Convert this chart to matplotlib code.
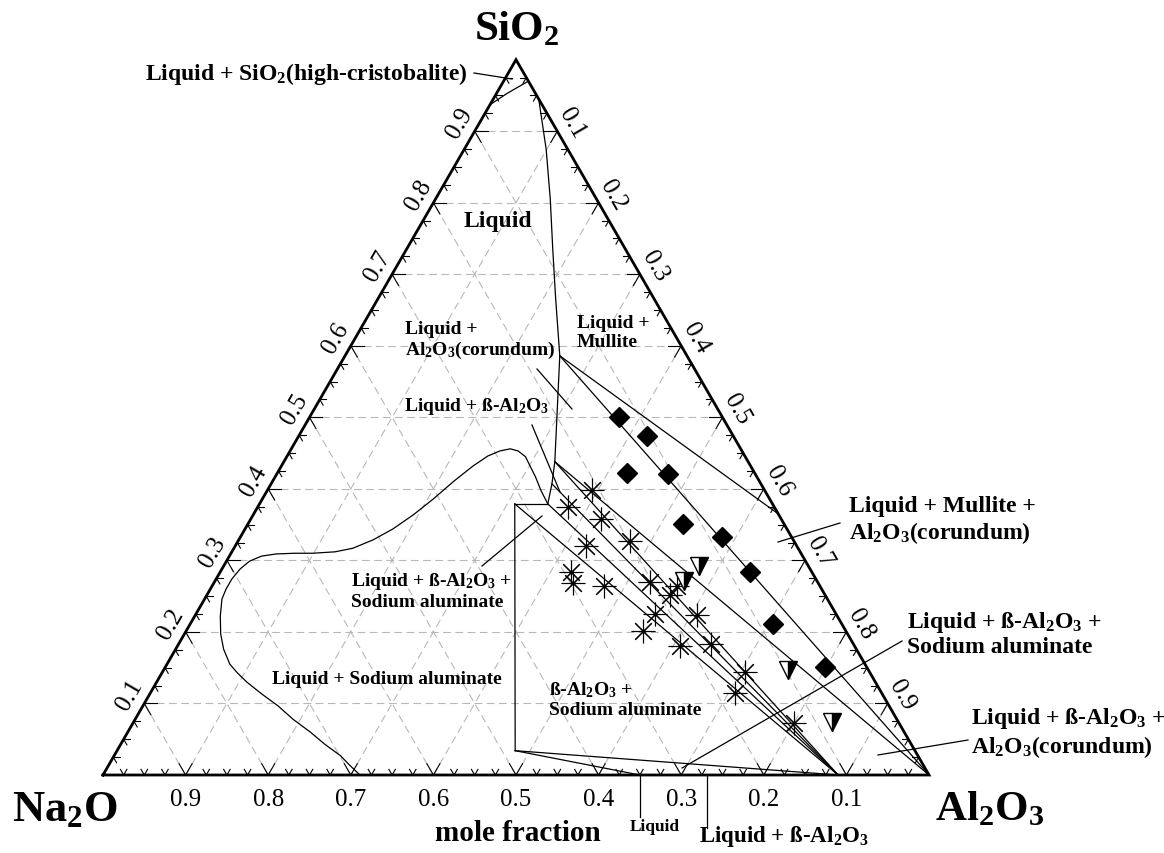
import numpy as np
import matplotlib.pyplot as plt
from matplotlib.lines import Line2D

plt.rcParams["font.family"] = "Liberation Serif"
plt.rcParams["mathtext.fontset"] = "custom"
plt.rcParams["mathtext.rm"] = "Liberation Serif:bold"
plt.rcParams["mathtext.it"] = "Liberation Serif:bold:italic"
plt.rcParams["mathtext.bf"] = "Liberation Serif:bold"
plt.rcParams["mathtext.default"] = "rm"

# All compositions as mole fractions (SiO2, Al2O3); Na2O is the remainder.

# cristobalite liquidus close to the SiO2 corner
crist_si = [0.937, 0.953, 0.970]
crist_al = [0.000, 0.013, 0.030]

# main liquidus running down from the SiO2-Al2O3 side
liq_si = [0.945, 0.875, 0.805, 0.735, 0.666, 0.586, 0.512, 0.438, 0.407, 0.379]
liq_al = [0.055, 0.099, 0.139, 0.177, 0.215, 0.260, 0.294, 0.328, 0.340, 0.349]

# boundary of the liquid + sodium aluminate field
naal_si = [0.000, 0.015, 0.027, 0.043, 0.060, 0.078, 0.097, 0.113, 0.130, 0.143,
           0.155, 0.176, 0.197, 0.222, 0.246, 0.260, 0.274, 0.288, 0.299, 0.306,
           0.309, 0.310, 0.310, 0.312, 0.317, 0.329, 0.344, 0.364, 0.386, 0.410,
           0.432, 0.446, 0.453, 0.456, 0.453, 0.445, 0.432, 0.417, 0.397, 0.379]
naal_al = [0.311, 0.290, 0.274, 0.247, 0.221, 0.191, 0.163, 0.136, 0.109, 0.091,
           0.076, 0.058, 0.044, 0.031, 0.021, 0.019, 0.019, 0.022, 0.028, 0.039,
           0.055, 0.077, 0.099, 0.125, 0.144, 0.163, 0.179, 0.194, 0.207, 0.219,
           0.232, 0.243, 0.254, 0.265, 0.276, 0.289, 0.301, 0.315, 0.332, 0.349]

# invariant / phase points (SiO2, Al2O3)
P_MUL = (0.586, 0.260)     # liquid + mullite + corundum
P_COR = (0.438, 0.328)     # liquid + beta-alumina + corundum
P_BET = (0.407, 0.340)
P_NAA = (0.379, 0.349)     # liquid + beta-alumina + sodium aluminate
P_BOX = (0.379, 0.309)
P_LOW = (0.034, 0.482)
P_BIN = (0.000, 0.650)
BETA = (0.000, 0.890)      # beta-alumina on the Na2O-Al2O3 side
MULLITE = (0.365, 0.635)
AL2O3 = (0.000, 1.000)

# phase boundary segments and tie lines
segments = [
    (P_NAA, P_BOX), (P_BOX, P_LOW), (P_LOW, P_BIN), (P_LOW, BETA),
    (P_MUL, MULLITE), (P_MUL, AL2O3), (P_COR, AL2O3),
    (P_COR, BETA), (P_BET, BETA), (P_NAA, BETA), (P_BOX, BETA),
]

# experimental compositions
diamond_si = [0.500, 0.474, 0.422, 0.421, 0.351, 0.333, 0.284, 0.211, 0.151]
diamond_al = [0.375, 0.422, 0.423, 0.474, 0.527, 0.583, 0.641, 0.706, 0.799]

tri_si = [0.292, 0.271, 0.147, 0.074]
tri_al = [0.575, 0.568, 0.756, 0.846]

star_si = [0.398, 0.375, 0.358, 0.327, 0.320, 0.284, 0.268, 0.264, 0.270, 0.252,
           0.264, 0.225, 0.224, 0.201, 0.180, 0.183, 0.144, 0.115, 0.073]
star_al = [0.393, 0.376, 0.424, 0.474, 0.425, 0.424, 0.435, 0.474, 0.527, 0.561,
           0.563, 0.556, 0.607, 0.553, 0.608, 0.645, 0.705, 0.708, 0.800]

tick_values = [0.1, 0.2, 0.3, 0.4, 0.5, 0.6, 0.7, 0.8, 0.9]

H = np.sqrt(3) / 2


def to_xy(si, al):
    si = np.asarray(si, dtype=float)
    al = np.asarray(al, dtype=float)
    return al + si / 2, si * H


W, HP = 1164, 854
fig = plt.figure(figsize=(W / 100, HP / 100), dpi=100)
ax = fig.add_axes([0, 0, 1, 1])
ax.set_xlim(-103 / 826, 1061 / 826)
ax.set_ylim(-78 / 826, 776 / 826)
ax.axis("off")


def fpos(x, y):
    # figure position given in pixels from the top-left corner
    return x / W, 1 - y / HP


# dashed grid in the three composition directions
for c in tick_values:
    for si, al in [([c, c], [0, 1 - c]), ([0, 1 - c], [c, c]), ([0, 1 - c], [1 - c, 0])]:
        x, y = to_xy(si, al)
        ax.plot(x, y, color="#b8b8b8", lw=0.8, ls=(0, (7, 4)), zorder=1)

# triangle frame
x, y = to_xy([0, 0, 1, 0], [0, 1, 0, 0])
ax.plot(x, y, color="black", lw=2.0, solid_joinstyle="miter", zorder=4)


def tick(si, al, angles, length):
    x0, y0 = to_xy(si, al)
    for ang in angles:
        r = np.deg2rad(ang)
        ax.plot([x0, x0 + length * np.cos(r)], [y0, y0 + length * np.sin(r)],
                color="black", lw=0.8, zorder=4)


for k in range(1, 40):
    c = k / 40
    ln = 13 / 826 if k % 4 == 0 else 6.5 / 826
    tick(0, 1 - c, (60, 120), ln)     # Na2O axis
    tick(c, 0, (0, -60), ln)          # SiO2 axis
    tick(1 - c, c, (180, -120), ln)   # Al2O3 axis

# tick labels
d = 17 / 826
for c in tick_values:
    ax.text(1 - c, -24 / 826, f"{c:.1f}", fontsize=18, ha="center", va="center")
    x0, y0 = to_xy(c, 0)
    ax.text(x0 - d * H, y0 + d / 2, f"{c:.1f}", fontsize=18, rotation=60,
            rotation_mode="anchor", ha="center", va="center")
    x0, y0 = to_xy(1 - c, c)
    ax.text(x0 + d * H, y0 + d / 2, f"{c:.1f}", fontsize=18, rotation=-60,
            rotation_mode="anchor", ha="center", va="center")

# phase boundaries
lkw = dict(color="black", lw=0.9, zorder=3)
ax.plot(*to_xy(crist_si, crist_al), **lkw)
ax.plot(*to_xy(liq_si, liq_al), **lkw)
ax.plot(*to_xy(naal_si, naal_al), **lkw)
for a, b in segments:
    ax.plot(*to_xy([a[0], b[0]], [a[1], b[1]]), **lkw)

# data points
ax.plot(*to_xy(star_si, star_al), ls="none", marker=(8, 2, 0), ms=17,
        mec="black", mew=0.8, zorder=5)
ax.plot(*to_xy(diamond_si, diamond_al), ls="none", marker="D", ms=10.5,
        color="black", zorder=5)
ax.plot(*to_xy(tri_si, tri_al), ls="none", marker="v", ms=13, fillstyle="right",
        mfc="black", mfcalt="white", mec="black", mew=1.0, zorder=5)

# leader lines from labels into their fields
leaders = [
    ((474, 74), (512, 80)),
    ((537, 370), (572, 410)),
    ((532, 426), (560, 493)),
    ((482, 567), (542, 517)),
    ((840, 524), (778, 543)),
    ((902, 642), (682, 769)),
    ((968, 741), (878, 756)),
    ((640, 776), (640, 818)),
    ((707, 776), (707, 829)),
]
for p, q in leaders:
    (x0, y0), (x1, y1) = fpos(*p), fpos(*q)
    fig.add_artist(Line2D([x0, x1], [y0, y1], transform=fig.transFigure,
                          color="black", lw=0.9))

AL = "Al$_2$O$_3$"
BAL = "ß-Al$_2$O$_3$"
labels = [
    ("Liquid + SiO$_2$(high-cristobalite)", (468, 74), 17, "right"),
    ("Liquid", (498, 222), 17, "center"),
    ("Liquid +\n" + AL + "(corundum)", (405, 341), 14, "left"),
    ("Liquid +\nMullite", (577, 333), 14, "left"),
    ("Liquid + " + BAL, (404, 407), 14, "left"),
    ("Liquid + " + BAL + " +\nSodium aluminate", (351, 591), 14, "left"),
    ("Liquid + Sodium aluminate", (387, 680), 14, "center"),
    (BAL + " +\nSodium aluminate", (549, 700), 14, "left"),
    ("Liquid + Mullite +\n" + AL + "(corundum)", (849, 521), 17, "left"),
    ("Liquid + " + BAL + " +\nSodium aluminate", (907, 634), 17, "left"),
    ("Liquid + " + BAL + " +\n" + AL + "(corundum)", (971, 733), 17, "left"),
    ("Liquid", (655, 827), 12.5, "center"),
    ("Liquid + " + BAL, (784, 837), 16.5, "center"),
    ("mole fraction", (518, 834), 21, "center"),
    ("SiO$_2$", (517, 30), 31, "center"),
    ("Na$_2$O", (65, 810), 32, "center"),
    ("Al$_2$O$_3$", (990, 810), 31, "center"),
]
for text, pos, fs, ha in labels:
    fig.text(*fpos(*pos), text, fontsize=fs, fontweight="bold", ha=ha,
             va="center", linespacing=1.15, multialignment="left")

fig.savefig("out.png", dpi=100)
